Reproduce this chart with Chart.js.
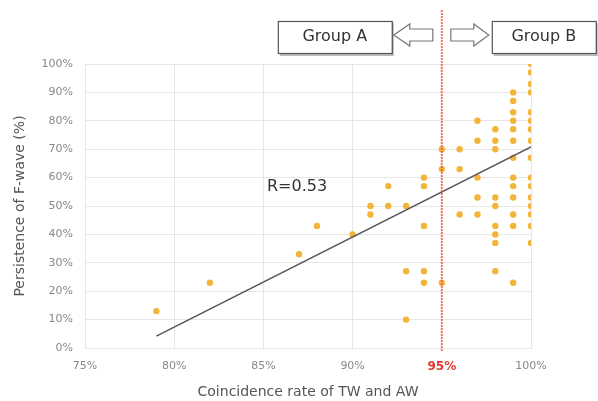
<!DOCTYPE html>
<html>
<head>
<meta charset="utf-8">
<script src="https://cdn.jsdelivr.net/npm/chart.js@4/dist/chart.umd.min.js"></script>
<style>
  html, body { margin: 0; padding: 0; background: #fff; }
  #wrap { width: 598px; height: 401px; position: relative; }
</style>
</head>
<body>
<div id="wrap"><canvas id="mainChart"></canvas></div>
<script>
// coincidence rate of TW and AW (%), one entry per patient
const coincidence = [79, 82, 87, 88, 90, 91, 91, 92, 92, 93, 93, 93,
    94, 94, 94, 94, 94, 95, 95, 95, 96, 96, 96,
    97, 97, 97, 97, 97,
    98, 98, 98, 98, 98, 98, 98, 98, 98,
    99, 99, 99, 99, 99, 99, 99, 99, 99, 99, 99, 99, 99,
    100, 100, 100, 100, 100, 100, 100, 100, 100, 100, 100, 100, 100, 100, 100, 100];
// persistence of F-wave (%)
const persistence = [13, 23, 33, 43, 40, 50, 47, 57, 50, 50, 27, 10,
    60, 57, 43, 27, 23, 70, 63, 23, 70, 63, 47,
    80, 73, 60, 53, 47,
    77, 73, 70, 53, 50, 43, 40, 37, 27,
    90, 87, 83, 80, 77, 73, 67, 60, 57, 53, 47, 43, 23,
    100, 97, 93, 90, 83, 80, 77, 73, 67, 60, 57, 53, 50, 47, 43, 37];
// regression line end points
const fitX = [79, 100];
const fitY = [4.2, 70.8];
const xTicks = [75, 80, 85, 90, 95, 100];
const cutoff = 95;
const rLabel = 'R=0.53';

const points = coincidence.map((x, i) => ({ x: x, y: persistence[i] }));
const fit = fitX.map((x, i) => ({ x: x, y: fitY[i] }));

const annotations = {
    id: 'annotations',
    afterDatasetsDraw(chart) {
        const ctx = chart.ctx;
        const xs = chart.scales.x, ys = chart.scales.y;
        const px = xs.getPixelForValue(cutoff);
        ctx.save();

        // cut-off line
        ctx.strokeStyle = 'rgba(225,90,70,0.8)';
        ctx.lineWidth = 2;
        ctx.setLineDash([2, 1]);
        ctx.beginPath();
        ctx.moveTo(px, 10);
        ctx.lineTo(px, ys.bottom + 4);
        ctx.stroke();
        ctx.setLineDash([]);

        // R value
        ctx.fillStyle = '#333';
        ctx.font = '16px "DejaVu Sans"';
        ctx.textAlign = 'left';
        ctx.textBaseline = 'middle';
        ctx.fillText(rLabel, xs.getPixelForValue(85.2), ys.getPixelForValue(56.7));

        // group boxes
        function box(x0, x1, label) {
            ctx.fillStyle = '#bbb';
            ctx.fillRect(x0 + 2, 23, x1 - x0, 33);
            ctx.fillStyle = '#fff';
            ctx.fillRect(x0, 21, x1 - x0, 33);
            ctx.strokeStyle = '#555';
            ctx.lineWidth = 1.2;
            ctx.strokeRect(x0 + 0.5, 21.5, x1 - x0, 32);
            ctx.fillStyle = '#333';
            ctx.font = '16px "DejaVu Sans"';
            ctx.textAlign = 'center';
            ctx.fillText(label, (x0 + x1) / 2, 37);
        }
        box(px - 164, px - 50, 'Group A');
        box(px + 50, px + 154, 'Group B');

        // arrows
        function arrow(tip, base, tail) {
            ctx.beginPath();
            ctx.moveTo(tip, 35);
            ctx.lineTo(base, 24);
            ctx.lineTo(base, 29);
            ctx.lineTo(tail, 29);
            ctx.lineTo(tail, 41);
            ctx.lineTo(base, 41);
            ctx.lineTo(base, 46);
            ctx.closePath();
            ctx.fillStyle = '#fff';
            ctx.fill();
            ctx.strokeStyle = '#777';
            ctx.lineWidth = 1.2;
            ctx.stroke();
        }
        arrow(px - 48, px - 32, px - 9);
        arrow(px + 47, px + 32, px + 9);
        ctx.restore();
    }
};

new Chart(document.getElementById('mainChart'), {
    type: 'scatter',
    data: {
        datasets: [
            { type: 'line', data: fit, borderColor: '#555', borderWidth: 1.5, pointRadius: 0, order: 0 },
            { data: points, backgroundColor: '#f3b43a', borderWidth: 0, pointRadius: 3.2, order: 1 }
        ]
    },
    options: {
        responsive: true, maintainAspectRatio: false, animation: false,
        layout: { padding: { top: 64, right: 67, left: 0, bottom: 0 } },
        plugins: { legend: { display: false }, tooltip: { enabled: false } },
        scales: {
            x: {
                type: 'linear', min: 75, max: 100,
                afterBuildTicks: s => { s.ticks = xTicks.map(v => ({ value: v })); },
                afterFit: s => { s.height = 53; },
                grid: { color: '#e6e6e6', drawTicks: false },
                border: { color: '#e6e6e6' },
                ticks: {
                    padding: 12,
                    callback: v => v + '%',
                    color: c => c.tick.value === cutoff ? '#e0392b' : '#888',
                    font: c => ({ family: 'DejaVu Sans', size: c.tick && c.tick.value === cutoff ? 12 : 11, weight: c.tick && c.tick.value === cutoff ? 'bold' : 'normal' })
                },
                title: { display: true, text: 'Coincidence rate of TW and AW', color: '#555', font: { family: 'DejaVu Sans', size: 14 }, padding: { top: 2, bottom: 0 } }
            },
            y: {
                min: 0, max: 100,
                afterFit: s => { s.width = 85; },
                grid: { color: '#e6e6e6', drawTicks: false },
                border: { color: '#e6e6e6' },
                ticks: { stepSize: 10, padding: 12, callback: v => v + '%', color: '#888', font: { family: 'DejaVu Sans', size: 11 } },
                title: { display: true, text: 'Persistence of F-wave (%)', color: '#555', font: { family: 'DejaVu Sans', size: 14 }, padding: { top: 12, bottom: 0 } }
            }
        }
    },
    plugins: [annotations]
});
</script>
</body>
</html>
